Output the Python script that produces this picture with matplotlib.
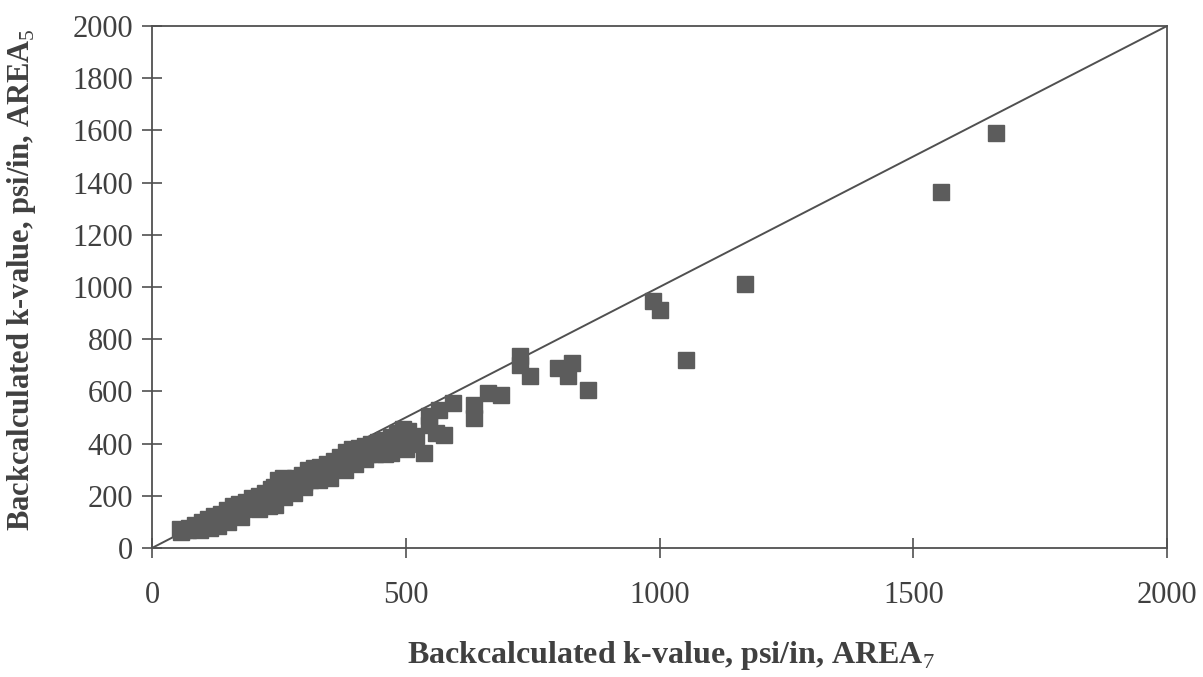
import matplotlib
matplotlib.use("Agg")
import matplotlib.pyplot as plt

plt.rcParams["font.family"] = ["Liberation Serif", "DejaVu Serif"]
plt.rcParams["mathtext.fontset"] = "custom"
plt.rcParams["mathtext.rm"] = "Liberation Serif"
plt.rcParams["mathtext.bf"] = "Liberation Serif:bold"

# Backcalculated k-values (psi/in): AREA7 (x) vs AREA5 (y)
area7 = [
    55, 62, 72, 85, 98, 110, 122, 135, 148, 160, 172, 185, 198, 210, 222,
    235, 248, 258, 270, 282, 295, 308, 320, 332, 345, 358, 370, 382, 395,
    408, 420, 432, 445, 458, 470, 482, 495, 505,
    58, 70, 88, 100, 115, 128, 140, 152, 165, 178, 190, 205, 218, 230, 242,
    250, 262, 275, 288, 300, 312, 325, 338, 350, 362, 375, 388, 400, 412,
    425, 438, 450, 462, 475, 488, 500, 512,
    200, 240, 265, 280, 310, 335, 360, 390, 420, 450, 470, 490, 500, 503,
    520, 545, 560,
    95, 115, 130, 150, 175, 210, 230, 260, 280, 300, 330, 350, 380, 400,
    420, 440, 460, 470,
    535, 545, 566, 575, 594, 634, 634, 662, 687, 725, 726, 745, 800, 819,
    827, 859, 987, 1001, 1052, 1169, 1554, 1664,
]
area5 = [
    72, 68, 78, 88, 100, 112, 122, 132, 145, 160, 170, 178, 190, 200, 212,
    225, 262, 268, 262, 270, 280, 298, 305, 312, 322, 335, 350, 368, 378,
    385, 390, 398, 405, 415, 425, 440, 455, 450,
    62, 68, 80, 88, 98, 110, 118, 128, 140, 150, 160, 170, 180, 190, 165,
    200, 215, 228, 240, 252, 262, 275, 285, 298, 305, 318, 330, 340, 352,
    362, 372, 378, 385, 392, 400, 408, 412,
    185, 235, 245, 255, 285, 300, 320, 350, 375, 395, 405, 430, 380, 400,
    430, 470, 440,
    70, 75, 85, 100, 120, 150, 160, 195, 210, 235, 260, 270, 300, 320,
    340, 360, 360, 365,
    363, 505, 528, 432, 555, 497, 547, 593, 585, 734, 700, 658, 688, 658,
    707, 604, 945, 910, 719, 1013, 1365, 1590,
]
line_pts = [0, 2000]

ink = "#505050"
text_ink = "#404040"

fig = plt.figure(figsize=(12.03, 6.77), dpi=100)
ax = fig.add_axes([152 / 1203, 1 - 548 / 677, (1167 - 152) / 1203, (548 - 26) / 677])

ax.plot(line_pts, line_pts, color=ink, lw=1.4, zorder=2)
ax.plot(area7, area5, ls="none", marker="s", markersize=11.5,
        color="#5c5c5c", markeredgecolor="#5c5c5c", zorder=3)

ax.set_xlim(0, 2000)
ax.set_ylim(0, 2000)
ax.set_xticks([0, 500, 1000, 1500, 2000])
ax.set_yticks(range(0, 2001, 200))

for s in ax.spines.values():
    s.set_color(ink)
    s.set_linewidth(1.3)

ax.tick_params(axis="both", direction="inout", length=15, width=1.2,
               color=ink, labelcolor=text_ink, labelsize=22)
ax.tick_params(axis="x", pad=16)
ax.tick_params(axis="y", pad=6)

ax.set_xlabel(r"Backcalculated k-value, psi/in, AREA$_7$", fontsize=23,
              fontweight="bold", color=text_ink, va="center")
ax.set_ylabel(r"Backcalculated k-value, psi/in, AREA$_5$", fontsize=22,
              fontweight="bold", color=text_ink, va="center")
ax.xaxis.set_label_coords((671 - 152) / 1015, (548 - 655) / 522)
ax.yaxis.set_label_coords((22 - 152) / 1015, (548 - 280) / 522)

fig.savefig("out.png", dpi=100)
